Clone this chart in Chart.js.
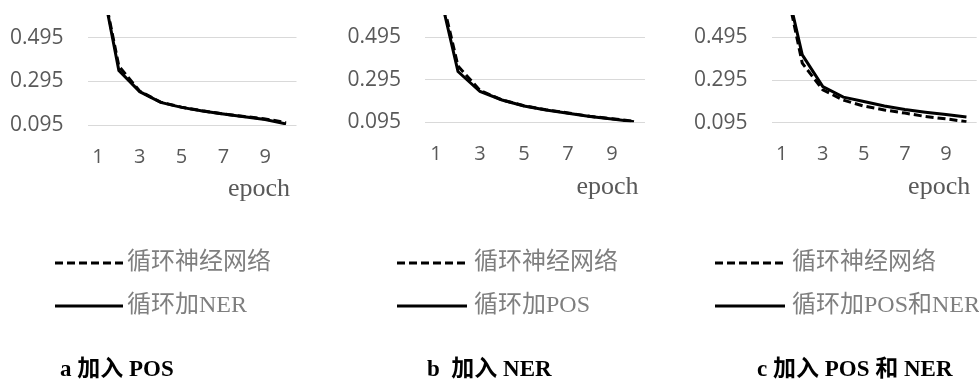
<!DOCTYPE html>
<html>
<head>
<meta charset="utf-8">
<script src="https://cdn.jsdelivr.net/npm/chart.js@4/dist/chart.umd.min.js"></script>
<style>
  html, body { margin: 0; padding: 0; background: #ffffff; }
  #wrap { position: relative; width: 979px; height: 383px; overflow: hidden; }
  canvas { position: absolute; left: 0; top: 0; }
</style>
</head>
<body>
<div id="wrap">
  <canvas id="ca" width="979" height="383"></canvas>
  <canvas id="cb" width="979" height="383"></canvas>
  <canvas id="cc" width="979" height="383"></canvas>
</div>
<script>
// ---- data ----
const epochs = [1, 2, 3, 4, 5, 6, 7, 8, 9, 10];
const yTicks = [0.095, 0.295, 0.495];
const xTickShown = [1, 3, 5, 7, 9];
const xTitle = 'epoch';

const labelRnn = '循环神经网络';
const labelA = '循环加NER';
const labelB = '循环加POS';
const labelC = '循环加POS和NER';

const rnnA = [0.84, 0.365, 0.250, 0.200, 0.177, 0.160, 0.146, 0.134, 0.123, 0.106];
const nerA = [0.84, 0.345, 0.248, 0.199, 0.176, 0.159, 0.146, 0.133, 0.120, 0.100];

const rnnB = [0.80, 0.360, 0.245, 0.200, 0.173, 0.154, 0.139, 0.123, 0.112, 0.099];
const posB = [0.78, 0.334, 0.240, 0.200, 0.172, 0.153, 0.138, 0.122, 0.111, 0.098];

const rnnC = [0.83, 0.374, 0.249, 0.201, 0.173, 0.155, 0.140, 0.124, 0.113, 0.100];
const bothC = [0.83, 0.413, 0.264, 0.215, 0.194, 0.173, 0.157, 0.144, 0.133, 0.122];

const captionA = 'a 加入 POS';
const captionB = 'b  加入 NER';
const captionC = 'c 加入 POS 和 NER';

// ---- decorations (legend + caption) drawn on the chart canvas ----
const panelDecor = {
  id: 'panelDecor',
  afterDraw(chart, args, opts) {
    const ctx = chart.ctx;
    ctx.save();
    chart.data.datasets.forEach((ds, i) => {
      const y = opts.legendY[i];
      ctx.beginPath();
      ctx.setLineDash(ds.borderDash || []);
      ctx.lineWidth = ds.borderWidth;
      ctx.strokeStyle = ds.borderColor;
      ctx.moveTo(opts.legendX, y);
      ctx.lineTo(opts.legendX + opts.legendLen, y);
      ctx.stroke();
      ctx.setLineDash([]);
      ctx.fillStyle = '#7f7f7f';
      ctx.font = '24px "Liberation Serif", "Noto Sans CJK SC"';
      ctx.textBaseline = 'middle';
      ctx.textAlign = 'left';
      ctx.fillText(ds.label, opts.textX, y);
    });
    ctx.fillStyle = '#000000';
    ctx.font = 'bold 23px "Liberation Serif", "Noto Sans CJK SC"';
    ctx.textBaseline = 'middle';
    ctx.textAlign = 'left';
    ctx.fillText(opts.caption, opts.captionX, opts.captionY);
    ctx.restore();
  }
};

function makeChart(id, rnn, other, otherLabel, geo) {
  const yAxisW = 88;
  const xAxisH = 80;
  return new Chart(document.getElementById(id), {
    type: 'line',
    data: {
      labels: epochs,
      datasets: [
        { label: labelRnn, data: rnn, borderColor: '#000000', borderWidth: 3,
          borderDash: [8, 4], pointRadius: 0, tension: 0, fill: false },
        { label: otherLabel, data: other, borderColor: '#000000', borderWidth: 3,
          pointRadius: 0, tension: 0, fill: false }
      ]
    },
    options: {
      responsive: false,
      animation: false,
      devicePixelRatio: 1,
      layout: {
        padding: {
          left: geo.left - yAxisW,
          right: 979 - geo.right,
          top: 15,
          bottom: 383 - geo.bottom - xAxisH
        }
      },
      plugins: {
        legend: { display: false },
        tooltip: { enabled: false },
        panelDecor: geo.decor
      },
      scales: {
        x: {
          type: 'category',
          offset: true,
          grid: { display: true, color: 'rgba(0,0,0,0)', drawOnChartArea: false,
                  drawTicks: true, tickLength: geo.xPad, tickColor: 'rgba(0,0,0,0)' },
          border: { display: false },
          ticks: {
            autoSkip: false,
            maxRotation: 0,
            padding: 0,
            color: '#595959',
            font: { family: '"Open Sans"', size: 20 },
            callback: function (v) {
              const lab = this.getLabelForValue(v);
              return xTickShown.includes(Number(lab)) ? String(lab) : '';
            }
          },
          title: {
            display: true,
            text: xTitle + '\u00a0',
            align: 'end',
            color: '#595959',
            font: { family: '"Liberation Serif"', size: 26 },
            padding: { top: 0, bottom: 0 }
          },
          afterFit(scale) { scale.height = xAxisH; }
        },
        y: {
          min: 0.095,
          max: 0.6,
          grid: { color: '#d9d9d9', lineWidth: 1, drawTicks: true, tickLength: 24,
                  tickColor: 'rgba(0,0,0,0)' },
          border: { display: false },
          afterBuildTicks(scale) { scale.ticks = yTicks.map(v => ({ value: v })); },
          ticks: {
            padding: 0,
            color: '#595959',
            font: { family: '"Open Sans"', size: 21 },
            callback: v => Number(v).toFixed(3)
          },
          afterFit(scale) { scale.width = yAxisW; }
        }
      }
    },
    plugins: [panelDecor]
  });
}

makeChart('ca', rnnA, nerA, labelA, {
  left: 87.5, right: 296.5, bottom: 125, xPad: 20,
  decor: { legendX: 55, legendLen: 68, textX: 127, legendY: [263, 306],
           caption: captionA, captionX: 60, captionY: 370 }
});
makeChart('cb', rnnB, posB, labelB, {
  left: 425, right: 645, bottom: 122.3, xPad: 20,
  decor: { legendX: 397, legendLen: 70, textX: 474, legendY: [263, 306],
           caption: captionB, captionX: 427, captionY: 370 }
});
makeChart('cc', rnnC, bothC, labelC, {
  left: 771.5, right: 976.7, bottom: 122.7, xPad: 20,
  decor: { legendX: 715, legendLen: 70, textX: 792, legendY: [263, 306],
           caption: captionC, captionX: 757, captionY: 370 }
});
</script>
</body>
</html>
